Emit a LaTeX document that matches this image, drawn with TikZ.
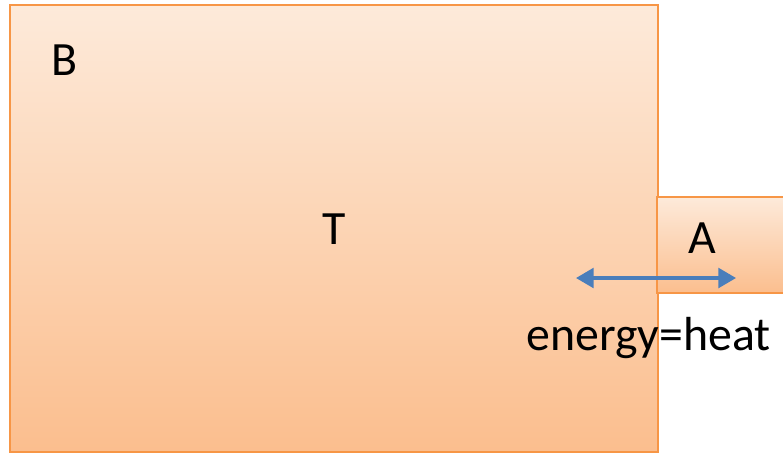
\documentclass[tikz,border=0pt]{standalone}
\usepackage{fontspec}
\setmainfont{Carlito}
\usetikzlibrary{arrows.meta}
\definecolor{boxline}{HTML}{F79646}
\definecolor{boxtop}{HTML}{FDEADA}
\definecolor{boxbot}{HTML}{FBBE8E}
\definecolor{arrowblue}{HTML}{4A7EBB}
\tikzset{
  body/.style={draw=boxline,line width=0.7pt,top color=boxtop,bottom color=boxbot,
    inner sep=0pt,outer sep=0pt},
  lbl/.style={font=\fontsize{13.6}{16}\selectfont,inner sep=0pt},
  flow/.style={arrowblue,line width=0.9pt,{Triangle[width=5.6pt,length=5pt]}-{Triangle[width=5.6pt,length=5pt]}}
}
\begin{document}
\begin{tikzpicture}
\useasboundingbox (0,0) rectangle (7.83,4.55);
\clip (0,0) rectangle (7.83,4.55);
            % Boxes
\node[body,minimum width=6.48cm,minimum height=4.47cm,anchor=south west] (boxB) at (0.10,0.03) {};
\node[body,minimum width=1.50cm,minimum height=0.96cm,anchor=south west] (boxA) at (6.57,1.62) {};
            % Labels
\node[lbl] (B) at (0.64,3.95) {B};
\node[lbl] (T) at (3.34,2.26) {T};
\node[lbl] (A) at (7.02,2.17) {A};
\node[lbl,anchor=base west] (heat) at (5.26,1.05) {energy=heat};
            % Exchange
\coordinate (left) at (5.76,1.77);
\coordinate (right) at (7.36,1.77);
\draw[flow] (left) -- (right);
\end{tikzpicture}
\end{document}
